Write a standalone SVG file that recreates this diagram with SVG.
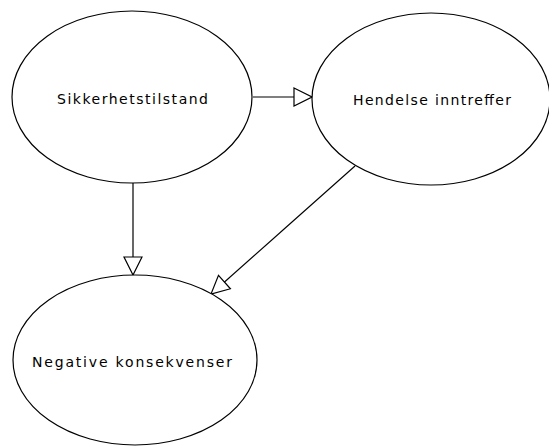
<svg xmlns="http://www.w3.org/2000/svg" width="549" height="446" viewBox="0 0 549 446">
<style>
.node ellipse{fill:#fff;stroke:#000;stroke-width:1.2}
.node text{font-family:"DejaVu Sans",sans-serif;font-size:14px;fill:#000;text-anchor:middle}
.edge{stroke:#000;stroke-width:1.2;fill:none}
</style>
<defs>
<marker id="tri" viewBox="0 0 20 20" refX="19" refY="10" markerWidth="20" markerHeight="20" markerUnits="userSpaceOnUse" orient="auto">
<path d="M1,1 L19,10 L1,19 Z" fill="#fff" stroke="#000" stroke-width="1.2"/>
</marker>
</defs>
<rect width="549" height="446" fill="#fff"/>
<g id="connectors">
<line class="edge" x1="253" y1="97" x2="312" y2="97" marker-end="url(#tri)"/>
<line class="edge" x1="133" y1="183" x2="133" y2="275" marker-end="url(#tri)"/>
<line class="edge" x1="355" y1="166" x2="211" y2="294" marker-end="url(#tri)"/>
</g>
<g id="n1" class="node">
<ellipse cx="132" cy="97" rx="120" ry="86"/>
<text x="132.5" y="104" textLength="151">Sikkerhetstilstand</text>
</g>
<g id="n2" class="node">
<ellipse cx="431" cy="99" rx="119" ry="86"/>
<text x="432" y="105" textLength="158">Hendelse inntreffer</text>
</g>
<g id="n3" class="node">
<ellipse cx="135" cy="360" rx="122" ry="85"/>
<text x="132" y="367" textLength="200">Negative konsekvenser</text>
</g>
</svg>
